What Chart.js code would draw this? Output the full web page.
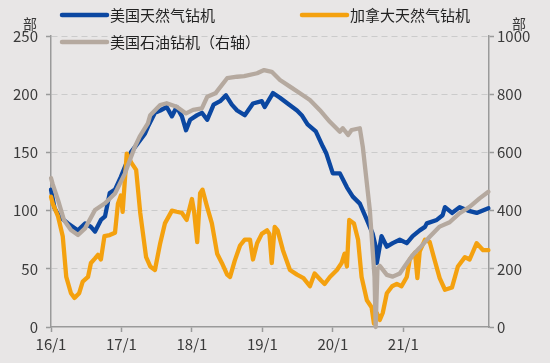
<!DOCTYPE html>
<html>
<head>
<meta charset="utf-8">
<script src="https://cdn.jsdelivr.net/npm/chart.js@4"></script>
<style>
  html, body { margin: 0; padding: 0; background: #e8e6e6; }
  #wrap { width: 550px; height: 363px; position: relative; }
</style>
</head>
<body>
<div id="wrap"><canvas id="rigs" width="550" height="363"></canvas></div>
<script>
// x positions are months counted from Jan 2016
const tickMonths = [0, 12, 24, 36, 48, 60];
const tickLabels = ["16/1", "17/1", "18/1", "19/1", "20/1", "21/1"];

// 美国天然气钻机 (left axis)
const usGasMonth = [0, 0.6, 1.4, 2.9, 4.6, 5.8, 6.8, 7.5, 8.5, 9.2, 10.0, 10.9, 11.9, 13.6, 14.8, 16.0, 16.5, 17.7, 18.6, 19.7, 20.6, 21.4, 22.3, 23.0, 23.7, 24.9, 25.7, 26.6, 27.7, 28.8, 29.8, 30.8, 31.7, 33.0, 34.4, 35.9, 36.4, 37.8, 39.0, 40.3, 41.9, 42.7, 43.7, 45.1, 46.3, 46.9, 48.0, 49.2, 50.4, 51.4, 52.6, 53.8, 54.8, 55.3, 55.5, 56.3, 57.2, 58.2, 59.4, 60.6, 61.6, 62.8, 63.7, 64.0, 65.7, 66.7, 67.1, 68.3, 69.6, 71.0, 72.5, 74.5];
const usGasRigs = [118, 102, 95, 89, 83, 89, 86, 82, 92, 95, 115, 118, 129, 150, 158, 166, 172, 184, 186, 189, 181, 189, 181, 169, 178, 182, 184, 178, 191, 194, 199, 191, 186, 182, 192, 194, 189, 201, 197, 192, 186, 182, 174, 168, 155, 149, 132, 132, 120, 112, 106, 92, 80, 69, 55, 78, 69, 72, 75, 72, 78, 83, 86, 89, 92, 96, 103, 98, 103, 100, 98, 102];

// 加拿大天然气钻机 (left axis)
const caGasMonth = [0, 0.3, 1.2, 2.0, 2.6, 3.4, 4.0, 4.8, 5.4, 6.3, 6.8, 7.5, 8.0, 8.5, 9.1, 10.0, 10.9, 11.4, 11.9, 12.2, 12.9, 13.7, 14.5, 15.2, 16.2, 16.9, 17.7, 18.6, 19.4, 20.6, 21.4, 22.3, 23.1, 24.0, 24.4, 24.9, 25.4, 25.8, 26.6, 27.4, 28.3, 29.1, 30.0, 30.5, 31.3, 32.2, 33.0, 33.9, 34.4, 35.1, 35.9, 36.8, 37.2, 37.6, 38.1, 38.6, 39.5, 40.7, 41.9, 43.0, 44.1, 44.9, 46.0, 46.6, 47.5, 48.7, 49.5, 50.0, 50.4, 50.8, 51.6, 52.3, 52.9, 53.8, 54.6, 55.0, 55.5, 56.0, 56.5, 57.2, 58.1, 58.9, 59.7, 60.6, 61.1, 62.0, 62.4, 62.8, 63.7, 64.5, 65.2, 66.2, 67.1, 68.3, 69.3, 70.5, 71.3, 72.5, 73.6, 74.5];
const caGasRigs = [112, 106, 95, 78, 43, 29, 25, 29, 39, 43, 55, 59, 62, 58, 78, 79, 81, 106, 113, 99, 149, 141, 135, 98, 60, 52, 49, 72, 89, 100, 99, 98, 92, 110, 98, 73, 115, 118, 103, 89, 63, 55, 45, 43, 57, 70, 75, 75, 58, 72, 80, 83, 80, 55, 86, 83, 66, 49, 45, 42, 35, 46, 40, 37, 43, 49, 55, 63, 52, 92, 89, 75, 43, 23, 17, 3, 12, 6, 12, 29, 35, 37, 35, 43, 58, 64, 42, 65, 75, 73, 60, 42, 32, 34, 52, 60, 58, 72, 66, 66];

// 美国石油钻机 (right axis)
const usOilMonth = [0, 0.3, 1.2, 2.2, 3.4, 4.6, 5.8, 7.5, 9.2, 10.9, 12.6, 14.3, 15.1, 16.5, 16.9, 18.6, 19.7, 21.4, 23.0, 24.2, 25.7, 26.6, 28.0, 30.0, 31.7, 32.9, 35.1, 36.3, 37.6, 39.0, 40.7, 42.4, 44.1, 45.8, 47.5, 49.2, 49.7, 50.6, 51.2, 52.6, 53.1, 54.3, 55.1, 55.3, 55.6, 56.0, 57.2, 58.2, 59.4, 60.6, 61.6, 62.8, 64.5, 66.2, 67.9, 69.6, 71.3, 73.0, 74.5];
const usOilRigs = [512, 490, 436, 368, 333, 316, 339, 402, 425, 459, 528, 620, 654, 700, 728, 763, 769, 757, 734, 746, 751, 791, 803, 855, 860, 862, 872, 883, 877, 849, 826, 803, 780, 745, 705, 671, 683, 660, 677, 683, 620, 402, 173, 0, 200, 210, 179, 173, 184, 219, 247, 272, 310, 345, 360, 391, 413, 442, 465];

const pairs = (xs, ys) => xs.map((x, i) => ({ x: x, y: ys[i] }));

const fontFamily = "'Noto Sans CJK SC', 'Noto Sans', sans-serif";
const axisColor = "#9a9a9a";
const textColor = "#3a3a3a";

//background, legend and unit labels
const decorPlugin = {
  id: "decor",
  beforeDraw(chart) {
    const ctx = chart.ctx;
    ctx.save();
    ctx.fillStyle = "#e8e6e6";
    ctx.fillRect(0, 0, chart.width, chart.height);
    ctx.restore();
  },
  afterDraw(chart) {
    const ctx = chart.ctx;
    const ds = chart.data.datasets;
    const items = [
      { d: ds[2], x: 62, y: 15 },
      { d: ds[1], x: 302, y: 15 },
      { d: ds[0], x: 62, y: 42 }
    ];
    ctx.save();
    ctx.font = "15px " + fontFamily;
    ctx.textBaseline = "middle";
    items.forEach(it => {
      ctx.strokeStyle = it.d.borderColor;
      ctx.lineWidth = 4.5;
      ctx.lineCap = "round";
      ctx.beginPath();
      ctx.moveTo(it.x, it.y);
      ctx.lineTo(it.x + 45, it.y);
      ctx.stroke();
      ctx.fillStyle = "#222";
      ctx.textAlign = "left";
      ctx.fillText(it.d.label, it.x + 48, it.y);
    });
    ctx.font = "14px " + fontFamily;
    ctx.fillStyle = textColor;
    ctx.textAlign = "center";
    ctx.fillText("部", 30, 24);
    ctx.fillText("部", 519, 24);
    ctx.restore();
  }
};

new Chart(document.getElementById("rigs"), {
  type: "line",
  plugins: [decorPlugin],
  data: {
    datasets: [
      {
        label: "美国石油钻机（右轴）",
        data: pairs(usOilMonth, usOilRigs),
        borderColor: "#b5a99f",
        yAxisID: "yRight",
        order: 0
      },
      {
        label: "加拿大天然气钻机",
        data: pairs(caGasMonth, caGasRigs),
        borderColor: "#f4a10f",
        yAxisID: "yLeft",
        order: 1
      },
      {
        label: "美国天然气钻机",
        data: pairs(usGasMonth, usGasRigs),
        borderColor: "#0b47a1",
        yAxisID: "yLeft",
        order: 2
      }
    ]
  },
  options: {
    responsive: false,
    animation: false,
    clip: 4,
    layout: { padding: { top: 36, left: 0, right: 0, bottom: 0 } },
    elements: {
      line: { borderWidth: 4.3, tension: 0, borderJoinStyle: "round", borderCapStyle: "round" },
      point: { radius: 0 }
    },
    plugins: {
      legend: { display: false },
      tooltip: { enabled: false }
    },
    scales: {
      x: {
        type: "linear",
        min: 0,
        max: 74.6,
        afterBuildTicks: s => { s.ticks = tickMonths.map(v => ({ value: v })); },
        afterFit: s => { s.height = 36; },
        ticks: {
          autoSkip: false,
          maxRotation: 0,
          padding: 3,
          color: textColor,
          font: { family: fontFamily, size: 15 },
          callback: v => tickLabels[tickMonths.indexOf(v)]
        },
        grid: { drawOnChartArea: false, drawTicks: true, tickLength: 5, tickColor: axisColor, tickWidth: 1.5 },
        border: { color: axisColor, width: 1.5 }
      },
      yLeft: {
        position: "left",
        min: 0,
        max: 250,
        afterFit: s => { s.width = 51; },
        ticks: {
          stepSize: 50,
          padding: 8,
          color: textColor,
          font: { family: fontFamily, size: 15 },
          callback: v => String(v)
        },
        grid: {
          color: c => (c.tick && c.tick.value === 0 ? "rgba(0,0,0,0)" : "#cbcbcb"),
          lineWidth: 1,
          tickLength: 5,
          tickColor: axisColor,
          tickWidth: 1.5
        },
        border: { color: axisColor, width: 1.5, dash: [6, 4] }
      },
      yRight: {
        position: "right",
        min: 0,
        max: 1000,
        afterFit: s => { s.width = 61; },
        ticks: {
          stepSize: 200,
          padding: 3,
          color: textColor,
          font: { family: fontFamily, size: 15 },
          callback: v => String(v)
        },
        grid: { drawOnChartArea: false, tickLength: 5, tickColor: axisColor, tickWidth: 1.5 },
        border: { color: axisColor, width: 1.5 }
      }
    }
  }
});
</script>
</body>
</html>
